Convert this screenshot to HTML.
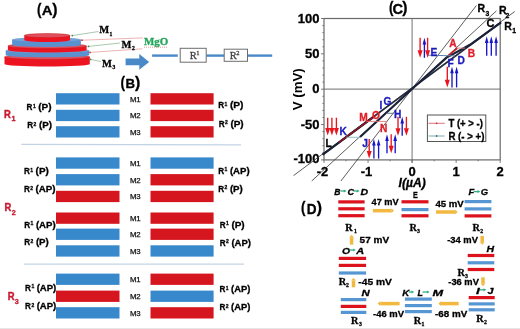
<!DOCTYPE html>
<html><head><meta charset="utf-8"><style>
html,body{margin:0;padding:0;background:#fff;}
svg{display:block;filter:blur(0.3px);}
</style></head><body>
<svg width="520" height="329" viewBox="0 0 520 329">
<rect width="520" height="329" fill="#fff"/>
<text x="36.9" y="14.693617021276594" font-family='"Liberation Sans", sans-serif' font-size="15.744680851063832" font-weight="bold" fill="#000" text-anchor="start" font-style="normal" textLength="4.46" lengthAdjust="spacingAndGlyphs" stroke="#000" stroke-width="0.3" >(</text>
<text x="57.4" y="14.693617021276594" font-family='"Liberation Sans", sans-serif' font-size="15.744680851063832" font-weight="bold" fill="#000" text-anchor="end" font-style="normal" stroke="#000" stroke-width="0.3" >)</text>
<text x="41.8" y="15.0" font-family='"Liberation Sans", sans-serif' font-size="13.687150837988828" font-weight="bold" fill="#000" text-anchor="start" font-style="normal" textLength="10.8" lengthAdjust="spacingAndGlyphs" stroke="#000" stroke-width="0.3" >A</text>
<path d="M4.5,56.9 L4.5,64.0 A42.65,2.5 0 0 0 89.8,64.0 L89.8,56.9 Z" fill="#ec1420"/>
<ellipse cx="47.15" cy="56.9" rx="42.65" ry="2.5" fill="#e0505c" stroke="#c8141e" stroke-width="0.5"/>
<path d="M5.7,50.5 L5.7,55.0 A41.75,2.3 0 0 0 89.2,55.0 L89.2,50.5 Z" fill="#5a92d0"/>
<ellipse cx="47.45" cy="50.5" rx="41.75" ry="2.3" fill="#79a3d6" />
<path d="M7.9,46.0 L7.9,50.0 A39.349999999999994,2.5 0 0 0 86.6,50.0 L86.6,46.0 Z" fill="#ec1420"/>
<ellipse cx="47.25" cy="46.0" rx="39.349999999999994" ry="2.5" fill="#e0505c" stroke="#c8141e" stroke-width="0.5"/>
<path d="M12.1,39.5 L12.1,44.8 A34.400000000000006,2.2 0 0 0 80.9,44.8 L80.9,39.5 Z" fill="#5a92d0"/>
<ellipse cx="46.5" cy="39.5" rx="34.400000000000006" ry="2.2" fill="#79a3d6" />
<path d="M24.3,35.6 L24.3,39.9 A22.85,2.1 0 0 0 70.0,39.9 L70.0,35.6 Z" fill="#ec1420"/>
<ellipse cx="47.15" cy="35.6" rx="22.85" ry="2.1" fill="#e0505c" stroke="#c8141e" stroke-width="0.5"/>
<line x1="72.3" y1="35.6" x2="98.5" y2="31.5" stroke="#9cc4a4" stroke-width="0.9"/>
<circle cx="72.3" cy="35.6" r="0.9" fill="#3a8a4a"/>
<line x1="82" y1="40.2" x2="143" y2="37.9" stroke="#eeaaaa" stroke-width="0.9"/>
<circle cx="82" cy="40.2" r="0.9" fill="#c04040"/>
<line x1="88.5" y1="46.4" x2="120" y2="43" stroke="#9cc4a4" stroke-width="0.9"/>
<circle cx="88.5" cy="46.4" r="0.9" fill="#3a8a4a"/>
<line x1="90" y1="52.4" x2="142.3" y2="48.8" stroke="#eeaaaa" stroke-width="0.9"/>
<circle cx="90" cy="52.4" r="0.9" fill="#c04040"/>
<line x1="90.5" y1="59.4" x2="100.8" y2="61.5" stroke="#9cc4a4" stroke-width="0.9"/>
<circle cx="90.5" cy="59.4" r="0.9" fill="#3a8a4a"/>
<text x="99.2" y="33.3" font-family='"Liberation Serif", serif' font-size="10.6" font-weight="bold" fill="#000" text-anchor="start" font-style="normal" textLength="9.9" lengthAdjust="spacingAndGlyphs" stroke="#000" stroke-width="0.3" >M</text>
<text x="109.6" y="35.6" font-family='"Liberation Serif", serif' font-size="6.2" font-weight="bold" fill="#000" text-anchor="start" font-style="normal" textLength="2.8" lengthAdjust="spacingAndGlyphs" stroke="#000" stroke-width="0.3" >1</text>
<text x="121.6" y="47.7" font-family='"Liberation Serif", serif' font-size="10.6" font-weight="bold" fill="#000" text-anchor="start" font-style="normal" textLength="9.9" lengthAdjust="spacingAndGlyphs" stroke="#000" stroke-width="0.3" >M</text>
<text x="132.0" y="49.6" font-family='"Liberation Serif", serif' font-size="6.2" font-weight="bold" fill="#000" text-anchor="start" font-style="normal" textLength="2.8" lengthAdjust="spacingAndGlyphs" stroke="#000" stroke-width="0.3" >2</text>
<text x="102.1" y="67.3" font-family='"Liberation Serif", serif' font-size="10.6" font-weight="bold" fill="#000" text-anchor="start" font-style="normal" textLength="9.9" lengthAdjust="spacingAndGlyphs" stroke="#000" stroke-width="0.3" >M</text>
<text x="112.4" y="69.4" font-family='"Liberation Serif", serif' font-size="6.2" font-weight="bold" fill="#000" text-anchor="start" font-style="normal" textLength="2.8" lengthAdjust="spacingAndGlyphs" stroke="#000" stroke-width="0.3" >3</text>
<text x="143.9" y="45.2" font-family='"Liberation Serif", serif' font-size="10.8" font-weight="bold" fill="#22a55a" text-anchor="start" font-style="normal" textLength="24.3" lengthAdjust="spacingAndGlyphs" stroke="#22a55a" stroke-width="0.3" >MgO</text>
<line x1="144" y1="47.2" x2="168" y2="47.2" stroke="#e07070" stroke-width="0.7" stroke-dasharray="1,1"/>
<path d="M125.6,58.4 L139.3,58.4 L139.3,53.9 L149.2,61.9 L139.3,69.8 L139.3,65.3 L125.6,65.3 Z" fill="#4a89c8"/>
<line x1="152.1" y1="55.6" x2="177.8" y2="55.6" stroke="#4a89c8" stroke-width="2.4"/>
<line x1="206.2" y1="55.6" x2="224.2" y2="55.6" stroke="#4a89c8" stroke-width="2.4"/>
<line x1="247.5" y1="55.6" x2="272.2" y2="55.6" stroke="#4a89c8" stroke-width="2.4"/>
<rect x="180.2" y="48.3" width="26" height="13.9" fill="#fff" stroke="#6d6d6d" stroke-width="1"/>
<rect x="224.2" y="49.2" width="23.3" height="12.1" fill="#fff" stroke="#6d6d6d" stroke-width="1"/>
<text x="189.8" y="58.5" font-family='"Liberation Serif", serif' font-size="10.5" font-weight="normal" fill="#444" text-anchor="start" font-style="normal" stroke="#444" stroke-width="0.3">R</text>
<text x="196.2" y="54.6" font-family='"Liberation Serif", serif' font-size="6.5" font-weight="normal" fill="#444" text-anchor="start" font-style="normal" stroke="#444" stroke-width="0.3">1</text>
<text x="229.8" y="58.5" font-family='"Liberation Serif", serif' font-size="10.5" font-weight="normal" fill="#444" text-anchor="start" font-style="normal" stroke="#444" stroke-width="0.3">R</text>
<text x="236.3" y="55.2" font-family='"Liberation Serif", serif' font-size="6.5" font-weight="normal" fill="#444" text-anchor="start" font-style="normal" stroke="#444" stroke-width="0.3">2</text>
<text x="120.5" y="88.07127659574469" font-family='"Liberation Sans", sans-serif' font-size="15.851063829787241" font-weight="bold" fill="#000" text-anchor="start" font-style="normal" textLength="4.49" lengthAdjust="spacingAndGlyphs" stroke="#000" stroke-width="0.3" >(</text>
<text x="140.2" y="88.07127659574469" font-family='"Liberation Sans", sans-serif' font-size="15.851063829787241" font-weight="bold" fill="#000" text-anchor="end" font-style="normal" stroke="#000" stroke-width="0.3" >)</text>
<text x="125.4" y="88.0" font-family='"Liberation Sans", sans-serif' font-size="12.709497206703903" font-weight="bold" fill="#000" text-anchor="start" font-style="normal" textLength="9.6" lengthAdjust="spacingAndGlyphs" stroke="#000" stroke-width="0.3" >B</text>
<rect x="56" y="93.2" width="63.5" height="11.3" fill="#3888cc"/>
<rect x="150.5" y="93.2" width="63.1" height="11.3" fill="#d6161e"/>
<text x="135.3" y="101.85000000000001" font-family='"Liberation Sans", sans-serif' font-size="7.8" font-weight="normal" fill="#111" text-anchor="middle" font-style="normal" stroke="#111" stroke-width="0.25">M1</text>
<rect x="56" y="109.8" width="63.5" height="11.3" fill="#3888cc"/>
<rect x="150.5" y="109.8" width="63.1" height="11.3" fill="#d6161e"/>
<text x="135.3" y="118.45" font-family='"Liberation Sans", sans-serif' font-size="7.8" font-weight="normal" fill="#111" text-anchor="middle" font-style="normal" stroke="#111" stroke-width="0.25">M2</text>
<rect x="56" y="126.2" width="63.5" height="11.3" fill="#3888cc"/>
<rect x="150.5" y="126.2" width="63.1" height="11.3" fill="#d6161e"/>
<text x="135.3" y="134.85" font-family='"Liberation Sans", sans-serif' font-size="7.8" font-weight="normal" fill="#111" text-anchor="middle" font-style="normal" stroke="#111" stroke-width="0.25">M3</text>
<rect x="56" y="157.4" width="63.5" height="11.3" fill="#3888cc"/>
<rect x="150.5" y="157.4" width="63.1" height="11.3" fill="#3888cc"/>
<text x="135.3" y="166.05" font-family='"Liberation Sans", sans-serif' font-size="7.8" font-weight="normal" fill="#111" text-anchor="middle" font-style="normal" stroke="#111" stroke-width="0.25">M1</text>
<rect x="56" y="174.1" width="63.5" height="11.3" fill="#3888cc"/>
<rect x="150.5" y="174.1" width="63.1" height="11.3" fill="#d6161e"/>
<text x="135.3" y="182.75" font-family='"Liberation Sans", sans-serif' font-size="7.8" font-weight="normal" fill="#111" text-anchor="middle" font-style="normal" stroke="#111" stroke-width="0.25">M2</text>
<rect x="56" y="190.8" width="63.5" height="11.3" fill="#d6161e"/>
<rect x="150.5" y="190.8" width="63.1" height="11.3" fill="#d6161e"/>
<text x="135.3" y="199.45000000000002" font-family='"Liberation Sans", sans-serif' font-size="7.8" font-weight="normal" fill="#111" text-anchor="middle" font-style="normal" stroke="#111" stroke-width="0.25">M3</text>
<rect x="56" y="212.5" width="63.5" height="11.3" fill="#d6161e"/>
<rect x="150.5" y="212.5" width="63.1" height="11.3" fill="#d6161e"/>
<text x="135.3" y="221.15" font-family='"Liberation Sans", sans-serif' font-size="7.8" font-weight="normal" fill="#111" text-anchor="middle" font-style="normal" stroke="#111" stroke-width="0.25">M1</text>
<rect x="56" y="228.6" width="63.5" height="11.3" fill="#3888cc"/>
<rect x="150.5" y="228.6" width="63.1" height="11.3" fill="#d6161e"/>
<text x="135.3" y="237.25" font-family='"Liberation Sans", sans-serif' font-size="7.8" font-weight="normal" fill="#111" text-anchor="middle" font-style="normal" stroke="#111" stroke-width="0.25">M2</text>
<rect x="56" y="245.3" width="63.5" height="11.3" fill="#3888cc"/>
<rect x="150.5" y="245.3" width="63.1" height="11.3" fill="#3888cc"/>
<text x="135.3" y="253.95000000000002" font-family='"Liberation Sans", sans-serif' font-size="7.8" font-weight="normal" fill="#111" text-anchor="middle" font-style="normal" stroke="#111" stroke-width="0.25">M3</text>
<rect x="56" y="273.6" width="63.5" height="11.3" fill="#3888cc"/>
<rect x="150.5" y="273.6" width="63.1" height="11.3" fill="#d6161e"/>
<text x="135.3" y="282.25" font-family='"Liberation Sans", sans-serif' font-size="7.8" font-weight="normal" fill="#111" text-anchor="middle" font-style="normal" stroke="#111" stroke-width="0.25">M1</text>
<rect x="56" y="290.6" width="63.5" height="11.3" fill="#d6161e"/>
<rect x="150.5" y="290.6" width="63.1" height="11.3" fill="#3888cc"/>
<text x="135.3" y="299.25" font-family='"Liberation Sans", sans-serif' font-size="7.8" font-weight="normal" fill="#111" text-anchor="middle" font-style="normal" stroke="#111" stroke-width="0.25">M2</text>
<rect x="56" y="307.2" width="63.5" height="11.3" fill="#3888cc"/>
<rect x="150.5" y="307.2" width="63.1" height="11.3" fill="#d6161e"/>
<text x="135.3" y="315.84999999999997" font-family='"Liberation Sans", sans-serif' font-size="7.8" font-weight="normal" fill="#111" text-anchor="middle" font-style="normal" stroke="#111" stroke-width="0.25">M3</text>
<line x1="21.3" y1="144.4" x2="241" y2="144.8" stroke="#c3d3e3" stroke-width="1.2"/>
<line x1="24" y1="264.2" x2="244" y2="264.2" stroke="#c3d3e3" stroke-width="1.2"/>
<text x="3.9" y="118.4" font-family='"Liberation Sans", sans-serif' font-size="11" font-weight="bold" fill="#c81a32" text-anchor="start" font-style="normal" textLength="6.8" lengthAdjust="spacingAndGlyphs" stroke="#c81a32" stroke-width="0.45">R</text>
<text x="11.5" y="121.4" font-family='"Liberation Sans", sans-serif' font-size="7.6" font-weight="bold" fill="#c81a32" text-anchor="start" font-style="normal" textLength="4.0" lengthAdjust="spacingAndGlyphs" stroke="#c81a32" stroke-width="0.35">1</text>
<text x="4.6" y="211.4" font-family='"Liberation Sans", sans-serif' font-size="11" font-weight="bold" fill="#c81a32" text-anchor="start" font-style="normal" textLength="6.8" lengthAdjust="spacingAndGlyphs" stroke="#c81a32" stroke-width="0.45">R</text>
<text x="11.8" y="214.7" font-family='"Liberation Sans", sans-serif' font-size="7.6" font-weight="bold" fill="#c81a32" text-anchor="start" font-style="normal" textLength="4.0" lengthAdjust="spacingAndGlyphs" stroke="#c81a32" stroke-width="0.35">2</text>
<text x="7.8" y="300.4" font-family='"Liberation Sans", sans-serif' font-size="11" font-weight="bold" fill="#c81a32" text-anchor="start" font-style="normal" textLength="6.8" lengthAdjust="spacingAndGlyphs" stroke="#c81a32" stroke-width="0.45">R</text>
<text x="14.8" y="303.7" font-family='"Liberation Sans", sans-serif' font-size="7.6" font-weight="bold" fill="#c81a32" text-anchor="start" font-style="normal" textLength="4.0" lengthAdjust="spacingAndGlyphs" stroke="#c81a32" stroke-width="0.35">3</text>
<text x="26.6" y="110.2" font-family='"Liberation Sans", sans-serif' font-size="9" font-weight="bold" fill="#000" text-anchor="start" font-style="normal" textLength="5.9" lengthAdjust="spacingAndGlyphs" stroke="#000" stroke-width="0.3" >R</text>
<text x="32.9" y="107.7" font-family='"Liberation Sans", sans-serif' font-size="5.8" font-weight="bold" fill="#000" text-anchor="start" font-style="normal" textLength="2.8" lengthAdjust="spacingAndGlyphs" stroke="#000" stroke-width="0.3" >1</text>
<text x="38.2" y="110.2" font-family='"Liberation Sans", sans-serif' font-size="9" font-weight="bold" fill="#000" text-anchor="start" font-style="normal" textLength="13.299999999999995" lengthAdjust="spacingAndGlyphs" stroke="#000" stroke-width="0.3" >(P)</text>
<text x="27.3" y="128.2" font-family='"Liberation Sans", sans-serif' font-size="9" font-weight="bold" fill="#000" text-anchor="start" font-style="normal" textLength="5.9" lengthAdjust="spacingAndGlyphs" stroke="#000" stroke-width="0.3" >R</text>
<text x="33.6" y="125.69999999999999" font-family='"Liberation Sans", sans-serif' font-size="5.8" font-weight="bold" fill="#000" text-anchor="start" font-style="normal" textLength="2.8" lengthAdjust="spacingAndGlyphs" stroke="#000" stroke-width="0.3" >2</text>
<text x="38.9" y="128.2" font-family='"Liberation Sans", sans-serif' font-size="9" font-weight="bold" fill="#000" text-anchor="start" font-style="normal" textLength="12.999999999999998" lengthAdjust="spacingAndGlyphs" stroke="#000" stroke-width="0.3" >(P)</text>
<text x="218.3" y="108.2" font-family='"Liberation Sans", sans-serif' font-size="9" font-weight="bold" fill="#000" text-anchor="start" font-style="normal" textLength="5.9" lengthAdjust="spacingAndGlyphs" stroke="#000" stroke-width="0.3" >R</text>
<text x="224.60000000000002" y="105.7" font-family='"Liberation Sans", sans-serif' font-size="5.8" font-weight="bold" fill="#000" text-anchor="start" font-style="normal" textLength="2.8" lengthAdjust="spacingAndGlyphs" stroke="#000" stroke-width="0.3" >1</text>
<text x="229.9" y="108.2" font-family='"Liberation Sans", sans-serif' font-size="9" font-weight="bold" fill="#000" text-anchor="start" font-style="normal" textLength="13.6" lengthAdjust="spacingAndGlyphs" stroke="#000" stroke-width="0.3" >(P)</text>
<text x="218.8" y="126.7" font-family='"Liberation Sans", sans-serif' font-size="9" font-weight="bold" fill="#000" text-anchor="start" font-style="normal" textLength="5.9" lengthAdjust="spacingAndGlyphs" stroke="#000" stroke-width="0.3" >R</text>
<text x="225.10000000000002" y="124.2" font-family='"Liberation Sans", sans-serif' font-size="5.8" font-weight="bold" fill="#000" text-anchor="start" font-style="normal" textLength="2.8" lengthAdjust="spacingAndGlyphs" stroke="#000" stroke-width="0.3" >2</text>
<text x="230.4" y="126.7" font-family='"Liberation Sans", sans-serif' font-size="9" font-weight="bold" fill="#000" text-anchor="start" font-style="normal" textLength="13.299999999999988" lengthAdjust="spacingAndGlyphs" stroke="#000" stroke-width="0.3" >(P)</text>
<text x="24.0" y="174.2" font-family='"Liberation Sans", sans-serif' font-size="9" font-weight="bold" fill="#000" text-anchor="start" font-style="normal" textLength="5.9" lengthAdjust="spacingAndGlyphs" stroke="#000" stroke-width="0.3" >R</text>
<text x="30.3" y="171.7" font-family='"Liberation Sans", sans-serif' font-size="5.8" font-weight="bold" fill="#000" text-anchor="start" font-style="normal" textLength="2.8" lengthAdjust="spacingAndGlyphs" stroke="#000" stroke-width="0.3" >1</text>
<text x="35.6" y="174.2" font-family='"Liberation Sans", sans-serif' font-size="9" font-weight="bold" fill="#000" text-anchor="start" font-style="normal" textLength="13.200000000000001" lengthAdjust="spacingAndGlyphs" stroke="#000" stroke-width="0.3" >(P)</text>
<text x="24.0" y="192.2" font-family='"Liberation Sans", sans-serif' font-size="9" font-weight="bold" fill="#000" text-anchor="start" font-style="normal" textLength="5.9" lengthAdjust="spacingAndGlyphs" stroke="#000" stroke-width="0.3" >R</text>
<text x="30.3" y="189.7" font-family='"Liberation Sans", sans-serif' font-size="5.8" font-weight="bold" fill="#000" text-anchor="start" font-style="normal" textLength="2.8" lengthAdjust="spacingAndGlyphs" stroke="#000" stroke-width="0.3" >2</text>
<text x="35.6" y="192.2" font-family='"Liberation Sans", sans-serif' font-size="9" font-weight="bold" fill="#000" text-anchor="start" font-style="normal" textLength="20.0" lengthAdjust="spacingAndGlyphs" stroke="#000" stroke-width="0.3" >(AP)</text>
<text x="24.3" y="227.7" font-family='"Liberation Sans", sans-serif' font-size="9" font-weight="bold" fill="#000" text-anchor="start" font-style="normal" textLength="5.9" lengthAdjust="spacingAndGlyphs" stroke="#000" stroke-width="0.3" >R</text>
<text x="30.6" y="225.2" font-family='"Liberation Sans", sans-serif' font-size="5.8" font-weight="bold" fill="#000" text-anchor="start" font-style="normal" textLength="2.8" lengthAdjust="spacingAndGlyphs" stroke="#000" stroke-width="0.3" >1</text>
<text x="35.9" y="227.7" font-family='"Liberation Sans", sans-serif' font-size="9" font-weight="bold" fill="#000" text-anchor="start" font-style="normal" textLength="19.700000000000003" lengthAdjust="spacingAndGlyphs" stroke="#000" stroke-width="0.3" >(AP)</text>
<text x="24.3" y="245.2" font-family='"Liberation Sans", sans-serif' font-size="9" font-weight="bold" fill="#000" text-anchor="start" font-style="normal" textLength="5.9" lengthAdjust="spacingAndGlyphs" stroke="#000" stroke-width="0.3" >R</text>
<text x="30.6" y="242.7" font-family='"Liberation Sans", sans-serif' font-size="5.8" font-weight="bold" fill="#000" text-anchor="start" font-style="normal" textLength="2.8" lengthAdjust="spacingAndGlyphs" stroke="#000" stroke-width="0.3" >2</text>
<text x="35.9" y="245.2" font-family='"Liberation Sans", sans-serif' font-size="9" font-weight="bold" fill="#000" text-anchor="start" font-style="normal" textLength="12.900000000000004" lengthAdjust="spacingAndGlyphs" stroke="#000" stroke-width="0.3" >(P)</text>
<text x="218.3" y="173.7" font-family='"Liberation Sans", sans-serif' font-size="9" font-weight="bold" fill="#000" text-anchor="start" font-style="normal" textLength="5.9" lengthAdjust="spacingAndGlyphs" stroke="#000" stroke-width="0.3" >R</text>
<text x="224.60000000000002" y="171.2" font-family='"Liberation Sans", sans-serif' font-size="5.8" font-weight="bold" fill="#000" text-anchor="start" font-style="normal" textLength="2.8" lengthAdjust="spacingAndGlyphs" stroke="#000" stroke-width="0.3" >1</text>
<text x="229.9" y="173.7" font-family='"Liberation Sans", sans-serif' font-size="9" font-weight="bold" fill="#000" text-anchor="start" font-style="normal" textLength="19.699999999999996" lengthAdjust="spacingAndGlyphs" stroke="#000" stroke-width="0.3" >(AP)</text>
<text x="218.3" y="191.7" font-family='"Liberation Sans", sans-serif' font-size="9" font-weight="bold" fill="#000" text-anchor="start" font-style="normal" textLength="5.9" lengthAdjust="spacingAndGlyphs" stroke="#000" stroke-width="0.3" >R</text>
<text x="224.60000000000002" y="189.2" font-family='"Liberation Sans", sans-serif' font-size="5.8" font-weight="bold" fill="#000" text-anchor="start" font-style="normal" textLength="2.8" lengthAdjust="spacingAndGlyphs" stroke="#000" stroke-width="0.3" >2</text>
<text x="229.9" y="191.7" font-family='"Liberation Sans", sans-serif' font-size="9" font-weight="bold" fill="#000" text-anchor="start" font-style="normal" textLength="12.899999999999983" lengthAdjust="spacingAndGlyphs" stroke="#000" stroke-width="0.3" >(P)</text>
<text x="219.8" y="227.5" font-family='"Liberation Sans", sans-serif' font-size="9" font-weight="bold" fill="#000" text-anchor="start" font-style="normal" textLength="5.9" lengthAdjust="spacingAndGlyphs" stroke="#000" stroke-width="0.3" >R</text>
<text x="226.10000000000002" y="225.0" font-family='"Liberation Sans", sans-serif' font-size="5.8" font-weight="bold" fill="#000" text-anchor="start" font-style="normal" textLength="2.8" lengthAdjust="spacingAndGlyphs" stroke="#000" stroke-width="0.3" >1</text>
<text x="231.4" y="227.5" font-family='"Liberation Sans", sans-serif' font-size="9" font-weight="bold" fill="#000" text-anchor="start" font-style="normal" textLength="13.299999999999988" lengthAdjust="spacingAndGlyphs" stroke="#000" stroke-width="0.3" >(P)</text>
<text x="219.8" y="245.7" font-family='"Liberation Sans", sans-serif' font-size="9" font-weight="bold" fill="#000" text-anchor="start" font-style="normal" textLength="5.9" lengthAdjust="spacingAndGlyphs" stroke="#000" stroke-width="0.3" >R</text>
<text x="226.10000000000002" y="243.2" font-family='"Liberation Sans", sans-serif' font-size="5.8" font-weight="bold" fill="#000" text-anchor="start" font-style="normal" textLength="2.8" lengthAdjust="spacingAndGlyphs" stroke="#000" stroke-width="0.3" >2</text>
<text x="231.4" y="245.7" font-family='"Liberation Sans", sans-serif' font-size="9" font-weight="bold" fill="#000" text-anchor="start" font-style="normal" textLength="19.6" lengthAdjust="spacingAndGlyphs" stroke="#000" stroke-width="0.3" >(AP)</text>
<text x="25.1" y="290.9" font-family='"Liberation Sans", sans-serif' font-size="9" font-weight="bold" fill="#000" text-anchor="start" font-style="normal" textLength="5.9" lengthAdjust="spacingAndGlyphs" stroke="#000" stroke-width="0.3" >R</text>
<text x="31.400000000000002" y="288.4" font-family='"Liberation Sans", sans-serif' font-size="5.8" font-weight="bold" fill="#000" text-anchor="start" font-style="normal" textLength="2.8" lengthAdjust="spacingAndGlyphs" stroke="#000" stroke-width="0.3" >1</text>
<text x="36.7" y="290.9" font-family='"Liberation Sans", sans-serif' font-size="9" font-weight="bold" fill="#000" text-anchor="start" font-style="normal" textLength="19.6" lengthAdjust="spacingAndGlyphs" stroke="#000" stroke-width="0.3" >(AP)</text>
<text x="25.1" y="309.1" font-family='"Liberation Sans", sans-serif' font-size="9" font-weight="bold" fill="#000" text-anchor="start" font-style="normal" textLength="5.9" lengthAdjust="spacingAndGlyphs" stroke="#000" stroke-width="0.3" >R</text>
<text x="31.400000000000002" y="306.6" font-family='"Liberation Sans", sans-serif' font-size="5.8" font-weight="bold" fill="#000" text-anchor="start" font-style="normal" textLength="2.8" lengthAdjust="spacingAndGlyphs" stroke="#000" stroke-width="0.3" >2</text>
<text x="36.7" y="309.1" font-family='"Liberation Sans", sans-serif' font-size="9" font-weight="bold" fill="#000" text-anchor="start" font-style="normal" textLength="19.6" lengthAdjust="spacingAndGlyphs" stroke="#000" stroke-width="0.3" >(AP)</text>
<text x="219.4" y="292.2" font-family='"Liberation Sans", sans-serif' font-size="9" font-weight="bold" fill="#000" text-anchor="start" font-style="normal" textLength="5.9" lengthAdjust="spacingAndGlyphs" stroke="#000" stroke-width="0.3" >R</text>
<text x="225.70000000000002" y="289.7" font-family='"Liberation Sans", sans-serif' font-size="5.8" font-weight="bold" fill="#000" text-anchor="start" font-style="normal" textLength="2.8" lengthAdjust="spacingAndGlyphs" stroke="#000" stroke-width="0.3" >1</text>
<text x="231.0" y="292.2" font-family='"Liberation Sans", sans-serif' font-size="9" font-weight="bold" fill="#000" text-anchor="start" font-style="normal" textLength="19.29999999999999" lengthAdjust="spacingAndGlyphs" stroke="#000" stroke-width="0.3" >(AP)</text>
<text x="219.4" y="310.1" font-family='"Liberation Sans", sans-serif' font-size="9" font-weight="bold" fill="#000" text-anchor="start" font-style="normal" textLength="5.9" lengthAdjust="spacingAndGlyphs" stroke="#000" stroke-width="0.3" >R</text>
<text x="225.70000000000002" y="307.6" font-family='"Liberation Sans", sans-serif' font-size="5.8" font-weight="bold" fill="#000" text-anchor="start" font-style="normal" textLength="2.8" lengthAdjust="spacingAndGlyphs" stroke="#000" stroke-width="0.3" >2</text>
<text x="231.0" y="310.1" font-family='"Liberation Sans", sans-serif' font-size="9" font-weight="bold" fill="#000" text-anchor="start" font-style="normal" textLength="19.29999999999999" lengthAdjust="spacingAndGlyphs" stroke="#000" stroke-width="0.3" >(AP)</text>
<text x="389.0" y="12.71595744680851" font-family='"Liberation Sans", sans-serif' font-size="15.638297872340425" font-weight="bold" fill="#000" text-anchor="start" font-style="normal" textLength="4.43" lengthAdjust="spacingAndGlyphs" stroke="#000" stroke-width="0.3" >(</text>
<text x="407.4" y="12.71595744680851" font-family='"Liberation Sans", sans-serif' font-size="15.638297872340425" font-weight="bold" fill="#000" text-anchor="end" font-style="normal" stroke="#000" stroke-width="0.3" >)</text>
<text x="392.6" y="13.6" font-family='"Liberation Sans", sans-serif' font-size="13.826815642458099" font-weight="bold" fill="#000" text-anchor="start" font-style="normal" textLength="10.6" lengthAdjust="spacingAndGlyphs" stroke="#000" stroke-width="0.3" >C</text>
<line x1="412.1" y1="18.5" x2="412.1" y2="162.70000000000002" stroke="#8a8a8a" stroke-width="1.2"/>
<line x1="324.0" y1="89.2" x2="500.2" y2="89.2" stroke="#8a8a8a" stroke-width="1.2"/>
<line x1="321.0" y1="159.90" x2="324.0" y2="159.90" stroke="#6a6a6a" stroke-width="0.9"/>
<line x1="322.4" y1="152.83" x2="324.0" y2="152.83" stroke="#6a6a6a" stroke-width="0.9"/>
<line x1="322.4" y1="145.76" x2="324.0" y2="145.76" stroke="#6a6a6a" stroke-width="0.9"/>
<line x1="322.4" y1="138.69" x2="324.0" y2="138.69" stroke="#6a6a6a" stroke-width="0.9"/>
<line x1="322.4" y1="131.62" x2="324.0" y2="131.62" stroke="#6a6a6a" stroke-width="0.9"/>
<line x1="321.0" y1="124.55" x2="324.0" y2="124.55" stroke="#6a6a6a" stroke-width="0.9"/>
<line x1="322.4" y1="117.48" x2="324.0" y2="117.48" stroke="#6a6a6a" stroke-width="0.9"/>
<line x1="322.4" y1="110.41" x2="324.0" y2="110.41" stroke="#6a6a6a" stroke-width="0.9"/>
<line x1="322.4" y1="103.34" x2="324.0" y2="103.34" stroke="#6a6a6a" stroke-width="0.9"/>
<line x1="322.4" y1="96.27" x2="324.0" y2="96.27" stroke="#6a6a6a" stroke-width="0.9"/>
<line x1="321.0" y1="89.20" x2="324.0" y2="89.20" stroke="#6a6a6a" stroke-width="0.9"/>
<line x1="322.4" y1="82.13" x2="324.0" y2="82.13" stroke="#6a6a6a" stroke-width="0.9"/>
<line x1="322.4" y1="75.06" x2="324.0" y2="75.06" stroke="#6a6a6a" stroke-width="0.9"/>
<line x1="322.4" y1="67.99" x2="324.0" y2="67.99" stroke="#6a6a6a" stroke-width="0.9"/>
<line x1="322.4" y1="60.92" x2="324.0" y2="60.92" stroke="#6a6a6a" stroke-width="0.9"/>
<line x1="321.0" y1="53.85" x2="324.0" y2="53.85" stroke="#6a6a6a" stroke-width="0.9"/>
<line x1="322.4" y1="46.78" x2="324.0" y2="46.78" stroke="#6a6a6a" stroke-width="0.9"/>
<line x1="322.4" y1="39.71" x2="324.0" y2="39.71" stroke="#6a6a6a" stroke-width="0.9"/>
<line x1="322.4" y1="32.64" x2="324.0" y2="32.64" stroke="#6a6a6a" stroke-width="0.9"/>
<line x1="322.4" y1="25.57" x2="324.0" y2="25.57" stroke="#6a6a6a" stroke-width="0.9"/>
<line x1="321.0" y1="18.50" x2="324.0" y2="18.50" stroke="#6a6a6a" stroke-width="0.9"/>
<line x1="324.00" y1="159.9" x2="324.00" y2="162.9" stroke="#6a6a6a" stroke-width="0.9"/>
<line x1="346.02" y1="159.9" x2="346.02" y2="161.3" stroke="#6a6a6a" stroke-width="0.9"/>
<line x1="368.05" y1="159.9" x2="368.05" y2="162.9" stroke="#6a6a6a" stroke-width="0.9"/>
<line x1="390.07" y1="159.9" x2="390.07" y2="161.3" stroke="#6a6a6a" stroke-width="0.9"/>
<line x1="412.10" y1="159.9" x2="412.10" y2="162.9" stroke="#6a6a6a" stroke-width="0.9"/>
<line x1="434.12" y1="159.9" x2="434.12" y2="161.3" stroke="#6a6a6a" stroke-width="0.9"/>
<line x1="456.15" y1="159.9" x2="456.15" y2="162.9" stroke="#6a6a6a" stroke-width="0.9"/>
<line x1="478.17" y1="159.9" x2="478.17" y2="161.3" stroke="#6a6a6a" stroke-width="0.9"/>
<line x1="500.20" y1="159.9" x2="500.20" y2="162.9" stroke="#6a6a6a" stroke-width="0.9"/>
<rect x="324.0" y="18.5" width="176.2" height="141.4" fill="none" stroke="#6a6a6a" stroke-width="1.2"/>
<text x="319.5" y="22.5" font-family='"Liberation Sans", sans-serif' font-size="13" font-weight="bold" fill="#000" text-anchor="end" font-style="normal" stroke="#000" stroke-width="0.3" >100</text>
<text x="319.5" y="57.9" font-family='"Liberation Sans", sans-serif' font-size="13" font-weight="bold" fill="#000" text-anchor="end" font-style="normal" stroke="#000" stroke-width="0.3" >50</text>
<text x="319.5" y="93.44999999999999" font-family='"Liberation Sans", sans-serif' font-size="13" font-weight="bold" fill="#000" text-anchor="end" font-style="normal" stroke="#000" stroke-width="0.3" >0</text>
<text x="319.5" y="129.1" font-family='"Liberation Sans", sans-serif' font-size="13" font-weight="bold" fill="#000" text-anchor="end" font-style="normal" stroke="#000" stroke-width="0.3" >-50</text>
<text x="319.5" y="163.29999999999998" font-family='"Liberation Sans", sans-serif' font-size="13" font-weight="bold" fill="#000" text-anchor="end" font-style="normal" stroke="#000" stroke-width="0.3" >-100</text>
<text x="322.5" y="175.8" font-family='"Liberation Sans", sans-serif' font-size="13" font-weight="bold" fill="#000" text-anchor="middle" font-style="normal" stroke="#000" stroke-width="0.3" >-2</text>
<text x="366.55" y="175.8" font-family='"Liberation Sans", sans-serif' font-size="13" font-weight="bold" fill="#000" text-anchor="middle" font-style="normal" stroke="#000" stroke-width="0.3" >-1</text>
<text x="412.1" y="175.8" font-family='"Liberation Sans", sans-serif' font-size="13" font-weight="bold" fill="#000" text-anchor="middle" font-style="normal" stroke="#000" stroke-width="0.3" >0</text>
<text x="456.15" y="175.8" font-family='"Liberation Sans", sans-serif' font-size="13" font-weight="bold" fill="#000" text-anchor="middle" font-style="normal" stroke="#000" stroke-width="0.3" >1</text>
<text x="500.2" y="175.8" font-family='"Liberation Sans", sans-serif' font-size="13" font-weight="bold" fill="#000" text-anchor="middle" font-style="normal" stroke="#000" stroke-width="0.3" >2</text>
<text x="398.6" y="186.6" font-family='"Liberation Sans", sans-serif' font-size="12.0" font-weight="bold" fill="#000" text-anchor="start" font-style="italic" textLength="27.2" lengthAdjust="spacingAndGlyphs" stroke="#000" stroke-width="0.3" >I(µA)</text>
<text transform="translate(302.2,89.2) rotate(-90)" font-family='"Liberation Sans", sans-serif' font-size="12" font-weight="bold" text-anchor="middle" textLength="42" lengthAdjust="spacingAndGlyphs">V (mV)</text>
<line x1="340.9" y1="181" x2="476.4" y2="5.5" stroke="#333" stroke-width="0.8"/>
<line x1="311.7" y1="181" x2="496.4" y2="10.9" stroke="#333" stroke-width="0.8"/>
<line x1="293.5" y1="175.6" x2="514.7" y2="11.5" stroke="#333" stroke-width="0.8"/>
<text x="477.6" y="12.1" font-family='"Liberation Sans", sans-serif' font-size="10.5" font-weight="bold" fill="#000" text-anchor="start" font-style="normal" stroke="#000" stroke-width="0.3" >R</text>
<text x="485.5" y="16.4" font-family='"Liberation Sans", sans-serif' font-size="6.8" font-weight="bold" fill="#000" text-anchor="start" font-style="normal" stroke="#000" stroke-width="0.3" >3</text>
<text x="498.9" y="14.0" font-family='"Liberation Sans", sans-serif' font-size="10.5" font-weight="bold" fill="#000" text-anchor="start" font-style="normal" stroke="#000" stroke-width="0.3" >R</text>
<text x="505.5" y="17.6" font-family='"Liberation Sans", sans-serif' font-size="6.8" font-weight="bold" fill="#000" text-anchor="start" font-style="normal" stroke="#000" stroke-width="0.3" >2</text>
<text x="504.3" y="29.8" font-family='"Liberation Sans", sans-serif' font-size="10.5" font-weight="bold" fill="#000" text-anchor="start" font-style="normal" stroke="#000" stroke-width="0.3" >R</text>
<text x="512.2" y="33.4" font-family='"Liberation Sans", sans-serif' font-size="6.8" font-weight="bold" fill="#000" text-anchor="start" font-style="normal" stroke="#000" stroke-width="0.3" >1</text>
<line x1="322.6" y1="154.6" x2="501" y2="22.4" stroke="#222a3c" stroke-width="1.5"/>
<line x1="322.6" y1="154.6" x2="373" y2="117.25" stroke="#1b2138" stroke-width="2.3"/>
<polyline points="360.0,137.0 412,89 446.5,57.6 470,44.8 501,22.4" fill="none" stroke="#1b2138" stroke-width="2.2" stroke-linejoin="round"/>
<line x1="339" y1="142.45" x2="376" y2="115.03" stroke="#8e1620" stroke-width="1.5"/>
<line x1="346.5" y1="137.3" x2="360.0" y2="137.3" stroke="#8cc0c8" stroke-width="1"/>
<line x1="366.5" y1="121.4" x2="386.6" y2="121.4" stroke="#e07878" stroke-width="0.9"/>
<line x1="448.6" y1="55.4" x2="457.4" y2="48.1" stroke="#c8202a" stroke-width="1.7"/>
<line x1="457.4" y1="48.1" x2="465" y2="48.1" stroke="#e08080" stroke-width="0.9"/>
<line x1="386" y1="113.3" x2="393.5" y2="113.3" stroke="#5a6a80" stroke-width="0.9"/>
<line x1="428" y1="55.2" x2="455" y2="55.9" stroke="#6080a8" stroke-width="1"/>
<text x="449.2" y="47.3" font-family='"Liberation Sans", sans-serif' font-size="10.2" font-weight="bold" fill="#e0202a" text-anchor="start" font-style="normal" stroke="#e0202a" stroke-width="0.3" >A</text>
<text x="467.7" y="57.4" font-family='"Liberation Sans", sans-serif' font-size="10.2" font-weight="bold" fill="#e0202a" text-anchor="start" font-style="normal" stroke="#e0202a" stroke-width="0.3" >B</text>
<text x="486.5" y="27.3" font-family='"Liberation Sans", sans-serif' font-size="11" font-weight="bold" fill="#000" text-anchor="start" font-style="normal" stroke="#000" stroke-width="0.3" >C</text>
<text x="457.4" y="63.7" font-family='"Liberation Sans", sans-serif' font-size="10.2" font-weight="bold" fill="#1c1cbc" text-anchor="start" font-style="normal" stroke="#1c1cbc" stroke-width="0.3" >D</text>
<text x="430.5" y="56.0" font-family='"Liberation Sans", sans-serif' font-size="10.2" font-weight="bold" fill="#1c1cbc" text-anchor="start" font-style="normal" stroke="#1c1cbc" stroke-width="0.3" >E</text>
<text x="447.6" y="66.5" font-family='"Liberation Sans", sans-serif' font-size="10.2" font-weight="bold" fill="#1c1cbc" text-anchor="start" font-style="normal" stroke="#1c1cbc" stroke-width="0.3" >F</text>
<text x="383.6" y="105.4" font-family='"Liberation Sans", sans-serif' font-size="10.2" font-weight="bold" fill="#1c1cbc" text-anchor="start" font-style="normal" stroke="#1c1cbc" stroke-width="0.3" >G</text>
<text x="394.0" y="118.3" font-family='"Liberation Sans", sans-serif' font-size="10.2" font-weight="bold" fill="#1c1cbc" text-anchor="start" font-style="normal" stroke="#1c1cbc" stroke-width="0.3" >H</text>
<text x="379.6" y="109.1" font-family='"Liberation Sans", sans-serif' font-size="10.2" font-weight="bold" fill="#1c1cbc" text-anchor="start" font-style="normal" stroke="#1c1cbc" stroke-width="0.3" >I</text>
<text x="362.2" y="146.8" font-family='"Liberation Sans", sans-serif' font-size="10.2" font-weight="bold" fill="#1c1cbc" text-anchor="start" font-style="normal" stroke="#1c1cbc" stroke-width="0.3" >J</text>
<text x="339.6" y="134.6" font-family='"Liberation Sans", sans-serif' font-size="10.2" font-weight="bold" fill="#1c1cbc" text-anchor="start" font-style="normal" stroke="#1c1cbc" stroke-width="0.3" >K</text>
<text x="325.5" y="146.5" font-family='"Liberation Sans", sans-serif' font-size="10.2" font-weight="bold" fill="#000" text-anchor="start" font-style="normal" stroke="#000" stroke-width="0.3" >L</text>
<text x="359.2" y="120.9" font-family='"Liberation Sans", sans-serif' font-size="10.2" font-weight="bold" fill="#e0202a" text-anchor="start" font-style="normal" stroke="#e0202a" stroke-width="0.3" >M</text>
<text x="379.9" y="131.7" font-family='"Liberation Sans", sans-serif' font-size="10.2" font-weight="bold" fill="#e0202a" text-anchor="start" font-style="normal" stroke="#e0202a" stroke-width="0.3" >N</text>
<text x="372.0" y="118.8" font-family='"Liberation Sans", sans-serif' font-size="10.2" font-weight="bold" fill="#e0202a" text-anchor="start" font-style="normal" stroke="#e0202a" stroke-width="0.3" >O</text>
<line x1="327.7" y1="117.7" x2="327.7" y2="128.4" stroke="#e8141e" stroke-width="1.35"/>
<path d="M325.2,127.9 L327.7,135.5 L330.2,127.9 Z" fill="#e8141e"/>
<line x1="331.9" y1="117.7" x2="331.9" y2="128.4" stroke="#e8141e" stroke-width="1.35"/>
<path d="M329.4,127.9 L331.9,135.5 L334.4,127.9 Z" fill="#e8141e"/>
<line x1="336.4" y1="117.7" x2="336.4" y2="128.4" stroke="#e8141e" stroke-width="1.35"/>
<path d="M333.9,127.9 L336.4,135.5 L338.9,127.9 Z" fill="#e8141e"/>
<line x1="369.2" y1="139.0" x2="369.2" y2="151.5" stroke="#e8141e" stroke-width="1.35"/>
<path d="M366.7,151.0 L369.2,158.6 L371.7,151.0 Z" fill="#e8141e"/>
<line x1="373.9" y1="145.1" x2="373.9" y2="158.6" stroke="#1616c8" stroke-width="1.35"/>
<path d="M372.09999999999997,145.6 L373.9,139.0 L375.7,145.6 Z" fill="#1616c8"/>
<line x1="378.6" y1="145.1" x2="378.6" y2="158.6" stroke="#1616c8" stroke-width="1.35"/>
<path d="M376.8,145.6 L378.6,139.0 L380.40000000000003,145.6 Z" fill="#1616c8"/>
<line x1="387.0" y1="140.4" x2="387.0" y2="153.3" stroke="#1616c8" stroke-width="1.35"/>
<path d="M385.2,140.9 L387.0,134.3 L388.8,140.9 Z" fill="#1616c8"/>
<line x1="391.2" y1="134.3" x2="391.2" y2="146.20000000000002" stroke="#e8141e" stroke-width="1.35"/>
<path d="M388.7,145.70000000000002 L391.2,153.3 L393.7,145.70000000000002 Z" fill="#e8141e"/>
<line x1="395.2" y1="140.4" x2="395.2" y2="153.3" stroke="#1616c8" stroke-width="1.35"/>
<path d="M393.4,140.9 L395.2,134.3 L397.0,140.9 Z" fill="#1616c8"/>
<line x1="398.0" y1="116.8" x2="398.0" y2="128.70000000000002" stroke="#e8141e" stroke-width="1.35"/>
<path d="M395.5,128.20000000000002 L398.0,135.8 L400.5,128.20000000000002 Z" fill="#e8141e"/>
<line x1="402.2" y1="122.89999999999999" x2="402.2" y2="135.8" stroke="#1616c8" stroke-width="1.35"/>
<path d="M400.4,123.39999999999999 L402.2,116.8 L404.0,123.39999999999999 Z" fill="#1616c8"/>
<line x1="406.4" y1="116.8" x2="406.4" y2="128.70000000000002" stroke="#e8141e" stroke-width="1.35"/>
<path d="M403.9,128.20000000000002 L406.4,135.8 L408.9,128.20000000000002 Z" fill="#e8141e"/>
<line x1="420.1" y1="37.8" x2="420.1" y2="50.699999999999996" stroke="#e8141e" stroke-width="1.35"/>
<path d="M417.6,50.199999999999996 L420.1,57.8 L422.6,50.199999999999996 Z" fill="#e8141e"/>
<line x1="424.4" y1="43.9" x2="424.4" y2="57.8" stroke="#1616c8" stroke-width="1.35"/>
<path d="M422.59999999999997,44.4 L424.4,37.8 L426.2,44.4 Z" fill="#1616c8"/>
<line x1="427.6" y1="37.8" x2="427.6" y2="50.699999999999996" stroke="#e8141e" stroke-width="1.35"/>
<path d="M425.1,50.199999999999996 L427.6,57.8 L430.1,50.199999999999996 Z" fill="#e8141e"/>
<line x1="447.3" y1="66.7" x2="447.3" y2="80.30000000000001" stroke="#e8141e" stroke-width="1.35"/>
<path d="M444.8,79.80000000000001 L447.3,87.4 L449.8,79.80000000000001 Z" fill="#e8141e"/>
<line x1="452.0" y1="72.8" x2="452.0" y2="87.4" stroke="#1616c8" stroke-width="1.35"/>
<path d="M450.2,73.3 L452.0,66.7 L453.8,73.3 Z" fill="#1616c8"/>
<line x1="456.6" y1="72.8" x2="456.6" y2="87.4" stroke="#1616c8" stroke-width="1.35"/>
<path d="M454.8,73.3 L456.6,66.7 L458.40000000000003,73.3 Z" fill="#1616c8"/>
<line x1="486.7" y1="42.4" x2="486.7" y2="55.8" stroke="#1616c8" stroke-width="1.35"/>
<path d="M484.9,42.9 L486.7,36.3 L488.5,42.9 Z" fill="#1616c8"/>
<line x1="491.3" y1="42.4" x2="491.3" y2="55.8" stroke="#1616c8" stroke-width="1.35"/>
<path d="M489.5,42.9 L491.3,36.3 L493.1,42.9 Z" fill="#1616c8"/>
<line x1="496.1" y1="42.4" x2="496.1" y2="55.8" stroke="#1616c8" stroke-width="1.35"/>
<path d="M494.3,42.9 L496.1,36.3 L497.90000000000003,42.9 Z" fill="#1616c8"/>
<rect x="427.4" y="115" width="58.4" height="26.5" fill="#fff" stroke="#555" stroke-width="1"/>
<line x1="428.5" y1="123.3" x2="444.7" y2="123.3" stroke="#e06070" stroke-width="0.9"/>
<circle cx="436.6" cy="123.3" r="0.9" fill="#c03040"/>
<line x1="428.5" y1="136" x2="444.7" y2="136" stroke="#70a0b0" stroke-width="0.9"/>
<circle cx="436.6" cy="136" r="0.9" fill="#407080"/>
<text x="448.4" y="126.9" font-family='"Liberation Sans", sans-serif' font-size="10.5" font-weight="bold" fill="#000" text-anchor="start" font-style="normal" textLength="34.6" lengthAdjust="spacingAndGlyphs" stroke="#000" stroke-width="0.3" >T (+ &gt; -)</text>
<text x="448.4" y="139.7" font-family='"Liberation Sans", sans-serif' font-size="10.5" font-weight="bold" fill="#000" text-anchor="start" font-style="normal" textLength="36.1" lengthAdjust="spacingAndGlyphs" stroke="#000" stroke-width="0.3" >R (- &gt; +)</text>
<text x="301.0" y="213.4936170212766" font-family='"Liberation Sans", sans-serif' font-size="15.744680851063842" font-weight="bold" fill="#000" text-anchor="start" font-style="normal" textLength="4.46" lengthAdjust="spacingAndGlyphs" stroke="#000" stroke-width="0.3" >(</text>
<text x="322.0" y="213.4936170212766" font-family='"Liberation Sans", sans-serif' font-size="15.744680851063842" font-weight="bold" fill="#000" text-anchor="end" font-style="normal" stroke="#000" stroke-width="0.3" >)</text>
<text x="306.8" y="214.0" font-family='"Liberation Sans", sans-serif' font-size="14.525139664804477" font-weight="bold" fill="#000" text-anchor="start" font-style="normal" textLength="9.8" lengthAdjust="spacingAndGlyphs" stroke="#000" stroke-width="0.3" >D</text>
<rect x="338.3" y="200.3" width="26.30000000000001" height="3.2" fill="#dc121c"/>
<rect x="338.3" y="207.2" width="26.30000000000001" height="3.2" fill="#dc121c"/>
<rect x="338.3" y="214.1" width="26.30000000000001" height="3.2" fill="#dc121c"/>
<text x="345.2" y="230.9" font-family='"Liberation Serif", serif' font-size="11" font-weight="bold" fill="#000" text-anchor="start" font-style="normal" textLength="7.4" lengthAdjust="spacingAndGlyphs" stroke="#000" stroke-width="0.3" >R</text>
<text x="354.0" y="232.8" font-family='"Liberation Serif", serif' font-size="6.6" font-weight="bold" fill="#000" text-anchor="start" font-style="normal" textLength="2.9" lengthAdjust="spacingAndGlyphs" stroke="#000" stroke-width="0.3" >1</text>
<rect x="401.5" y="200.2" width="27.0" height="3.2" fill="#dc121c"/>
<rect x="401.5" y="208.0" width="27.0" height="3.2" fill="#5696d2"/>
<rect x="401.5" y="214.2" width="27.0" height="3.2" fill="#dc121c"/>
<text x="409.4" y="231.1" font-family='"Liberation Serif", serif' font-size="11" font-weight="bold" fill="#000" text-anchor="start" font-style="normal" textLength="7.4" lengthAdjust="spacingAndGlyphs" stroke="#000" stroke-width="0.3" >R</text>
<text x="417.0" y="233.0" font-family='"Liberation Serif", serif' font-size="6.6" font-weight="bold" fill="#000" text-anchor="start" font-style="normal" textLength="2.9" lengthAdjust="spacingAndGlyphs" stroke="#000" stroke-width="0.3" >3</text>
<rect x="464.6" y="200.0" width="26.799999999999955" height="3.2" fill="#5696d2"/>
<rect x="464.6" y="207.3" width="26.799999999999955" height="3.2" fill="#5696d2"/>
<rect x="464.6" y="214.3" width="26.799999999999955" height="3.2" fill="#dc121c"/>
<text x="472.4" y="230.9" font-family='"Liberation Serif", serif' font-size="11" font-weight="bold" fill="#000" text-anchor="start" font-style="normal" textLength="7.4" lengthAdjust="spacingAndGlyphs" stroke="#000" stroke-width="0.3" >R</text>
<text x="480.3" y="232.5" font-family='"Liberation Serif", serif' font-size="6.6" font-weight="bold" fill="#000" text-anchor="start" font-style="normal" textLength="2.9" lengthAdjust="spacingAndGlyphs" stroke="#000" stroke-width="0.3" >2</text>
<rect x="467.7" y="253.9" width="26.600000000000023" height="3.2" fill="#dc121c"/>
<rect x="467.7" y="261.2" width="26.600000000000023" height="3.2" fill="#5696d2"/>
<rect x="467.7" y="267.9" width="26.600000000000023" height="3.2" fill="#dc121c"/>
<text x="457.5" y="276.0" font-family='"Liberation Serif", serif' font-size="11" font-weight="bold" fill="#000" text-anchor="start" font-style="normal" textLength="7.4" lengthAdjust="spacingAndGlyphs" stroke="#000" stroke-width="0.3" >R</text>
<text x="465.1" y="277.7" font-family='"Liberation Serif", serif' font-size="6.6" font-weight="bold" fill="#000" text-anchor="start" font-style="normal" textLength="2.9" lengthAdjust="spacingAndGlyphs" stroke="#000" stroke-width="0.3" >3</text>
<rect x="468.7" y="296.0" width="26.0" height="3.2" fill="#dc121c"/>
<rect x="468.7" y="302.3" width="26.0" height="3.2" fill="#5696d2"/>
<rect x="468.7" y="308.2" width="26.0" height="3.2" fill="#5696d2"/>
<text x="476.3" y="322.0" font-family='"Liberation Serif", serif' font-size="11" font-weight="bold" fill="#000" text-anchor="start" font-style="normal" textLength="7.4" lengthAdjust="spacingAndGlyphs" stroke="#000" stroke-width="0.3" >R</text>
<text x="484.0" y="324.2" font-family='"Liberation Serif", serif' font-size="6.6" font-weight="bold" fill="#000" text-anchor="start" font-style="normal" textLength="2.9" lengthAdjust="spacingAndGlyphs" stroke="#000" stroke-width="0.3" >2</text>
<rect x="404.9" y="297.5" width="26.900000000000034" height="3.2" fill="#5696d2"/>
<rect x="404.9" y="304.0" width="26.900000000000034" height="3.2" fill="#5696d2"/>
<rect x="404.9" y="310.0" width="26.900000000000034" height="3.2" fill="#5696d2"/>
<text x="413.7" y="323.7" font-family='"Liberation Serif", serif' font-size="11" font-weight="bold" fill="#000" text-anchor="start" font-style="normal" textLength="7.4" lengthAdjust="spacingAndGlyphs" stroke="#000" stroke-width="0.3" >R</text>
<text x="421.6" y="326.1" font-family='"Liberation Serif", serif' font-size="6.6" font-weight="bold" fill="#000" text-anchor="start" font-style="normal" textLength="2.9" lengthAdjust="spacingAndGlyphs" stroke="#000" stroke-width="0.3" >1</text>
<rect x="340.8" y="298.0" width="25.5" height="3.2" fill="#5696d2"/>
<rect x="340.8" y="304.8" width="25.5" height="3.2" fill="#dc121c"/>
<rect x="340.8" y="310.8" width="25.5" height="3.2" fill="#5696d2"/>
<text x="351.0" y="323.7" font-family='"Liberation Serif", serif' font-size="11" font-weight="bold" fill="#000" text-anchor="start" font-style="normal" textLength="7.4" lengthAdjust="spacingAndGlyphs" stroke="#000" stroke-width="0.3" >R</text>
<text x="359.0" y="325.9" font-family='"Liberation Serif", serif' font-size="6.6" font-weight="bold" fill="#000" text-anchor="start" font-style="normal" textLength="2.9" lengthAdjust="spacingAndGlyphs" stroke="#000" stroke-width="0.3" >3</text>
<rect x="338.8" y="256.8" width="27.30000000000001" height="3.2" fill="#dc121c"/>
<rect x="338.8" y="263.8" width="27.30000000000001" height="3.2" fill="#dc121c"/>
<rect x="338.8" y="271.4" width="27.30000000000001" height="3.2" fill="#5696d2"/>
<text x="338.7" y="284.9" font-family='"Liberation Serif", serif' font-size="11" font-weight="bold" fill="#000" text-anchor="start" font-style="normal" textLength="7.4" lengthAdjust="spacingAndGlyphs" stroke="#000" stroke-width="0.3" >R</text>
<text x="346.1" y="286.8" font-family='"Liberation Serif", serif' font-size="6.6" font-weight="bold" fill="#000" text-anchor="start" font-style="normal" textLength="2.9" lengthAdjust="spacingAndGlyphs" stroke="#000" stroke-width="0.3" >2</text>
<text x="371.5" y="205.2" font-family='"Liberation Sans", sans-serif' font-size="9.6" font-weight="bold" fill="#000" text-anchor="start" font-style="normal" textLength="27.3" lengthAdjust="spacingAndGlyphs" stroke="#000" stroke-width="0.3" >47 mV</text>
<text x="435.4" y="206.6" font-family='"Liberation Sans", sans-serif' font-size="9.6" font-weight="bold" fill="#000" text-anchor="start" font-style="normal" textLength="28.4" lengthAdjust="spacingAndGlyphs" stroke="#000" stroke-width="0.3" >45 mV</text>
<text x="447.2" y="242.8" font-family='"Liberation Sans", sans-serif' font-size="9.6" font-weight="bold" fill="#000" text-anchor="start" font-style="normal" textLength="30.8" lengthAdjust="spacingAndGlyphs" stroke="#000" stroke-width="0.3" >-34 mV</text>
<text x="448.3" y="285.4" font-family='"Liberation Sans", sans-serif' font-size="9.6" font-weight="bold" fill="#000" text-anchor="start" font-style="normal" textLength="30.6" lengthAdjust="spacingAndGlyphs" stroke="#000" stroke-width="0.3" >-36 mV</text>
<text x="435.0" y="316.8" font-family='"Liberation Sans", sans-serif' font-size="9.6" font-weight="bold" fill="#000" text-anchor="start" font-style="normal" textLength="32.3" lengthAdjust="spacingAndGlyphs" stroke="#000" stroke-width="0.3" >-68 mV</text>
<text x="373.0" y="316.8" font-family='"Liberation Sans", sans-serif' font-size="9.6" font-weight="bold" fill="#000" text-anchor="start" font-style="normal" textLength="31.0" lengthAdjust="spacingAndGlyphs" stroke="#000" stroke-width="0.3" >-46 mV</text>
<text x="358.3" y="284.6" font-family='"Liberation Sans", sans-serif' font-size="9.6" font-weight="bold" fill="#000" text-anchor="start" font-style="normal" textLength="33.6" lengthAdjust="spacingAndGlyphs" stroke="#000" stroke-width="0.3" >-45 mV</text>
<text x="359.6" y="242.8" font-family='"Liberation Sans", sans-serif' font-size="9.6" font-weight="bold" fill="#000" text-anchor="start" font-style="normal" textLength="29.6" lengthAdjust="spacingAndGlyphs" stroke="#000" stroke-width="0.3" >57 mV</text>
<line x1="372.9" y1="210.7" x2="391.4" y2="210.7" stroke="#f2b840" stroke-width="3.5"/>
<path d="M391.4,213.1 L394.0,210.7 L391.4,208.29999999999998 Z" fill="#f2b840"/>
<line x1="436.0" y1="212.0" x2="455.09999999999997" y2="212.0" stroke="#f2b840" stroke-width="3.5"/>
<path d="M455.09999999999997,214.4 L457.7,212.0 L455.09999999999997,209.6 Z" fill="#f2b840"/>
<line x1="482.2" y1="235.9" x2="482.2" y2="242.20000000000002" stroke="#f2b840" stroke-width="3.5"/>
<path d="M479.8,242.20000000000002 L482.2,244.8 L484.59999999999997,242.20000000000002 Z" fill="#f2b840"/>
<line x1="483.0" y1="277.3" x2="483.0" y2="283.59999999999997" stroke="#f2b840" stroke-width="3.5"/>
<path d="M480.6,283.59999999999997 L483.0,286.2 L485.4,283.59999999999997 Z" fill="#f2b840"/>
<line x1="458.6" y1="303.6" x2="441.0" y2="303.6" stroke="#f2b840" stroke-width="3.5"/>
<path d="M441.0,301.20000000000005 L438.4,303.6 L441.0,306.0 Z" fill="#f2b840"/>
<line x1="399.6" y1="303.6" x2="380.20000000000005" y2="303.6" stroke="#f2b840" stroke-width="3.5"/>
<path d="M380.20000000000005,301.20000000000005 L377.6,303.6 L380.20000000000005,306.0 Z" fill="#f2b840"/>
<line x1="353.5" y1="287.3" x2="353.5" y2="280.5" stroke="#f2b840" stroke-width="3.5"/>
<path d="M355.9,280.5 L353.5,277.9 L351.1,280.5 Z" fill="#f2b840"/>
<line x1="351.6" y1="244.6" x2="351.6" y2="237.4" stroke="#f2b840" stroke-width="3.5"/>
<path d="M354.0,237.4 L351.6,234.8 L349.20000000000005,237.4 Z" fill="#f2b840"/>
<text x="334.3" y="195.0" font-family='"Liberation Sans", sans-serif' font-size="9.5" font-weight="bold" fill="#000" text-anchor="start" font-style="italic" textLength="6.2" lengthAdjust="spacingAndGlyphs" stroke="#000" stroke-width="0.3" >B</text>
<line x1="340.5" y1="191.0" x2="344.20000000000005" y2="191.0" stroke="#2fae7e" stroke-width="1.3"/>
<path d="M343.8,189.4 L346.6,191.0 L343.8,192.6 Z" fill="#2fae7e"/>
<text x="347.4" y="195.0" font-family='"Liberation Sans", sans-serif' font-size="9.5" font-weight="bold" fill="#000" text-anchor="start" font-style="italic" textLength="6.6" lengthAdjust="spacingAndGlyphs" stroke="#000" stroke-width="0.3" >C</text>
<line x1="353.5" y1="191.0" x2="357.3" y2="191.0" stroke="#2fae7e" stroke-width="1.3"/>
<path d="M356.9,189.4 L359.7,191.0 L356.9,192.6 Z" fill="#2fae7e"/>
<text x="360.6" y="195.0" font-family='"Liberation Sans", sans-serif' font-size="9.5" font-weight="bold" fill="#000" text-anchor="start" font-style="italic" textLength="7.6" lengthAdjust="spacingAndGlyphs" stroke="#000" stroke-width="0.3" >D</text>
<text x="413.0" y="198.2" font-family='"Liberation Sans", sans-serif' font-size="9.6" font-weight="bold" fill="#000" text-anchor="start" font-style="normal" textLength="4.8" lengthAdjust="spacingAndGlyphs" stroke="#000" stroke-width="0.3" >E</text>
<text x="468.5" y="194.8" font-family='"Liberation Sans", sans-serif' font-size="9.5" font-weight="bold" fill="#000" text-anchor="start" font-style="italic" textLength="5.7" lengthAdjust="spacingAndGlyphs" stroke="#000" stroke-width="0.3" >F</text>
<line x1="473.6" y1="191.6" x2="477.90000000000003" y2="191.6" stroke="#2fae7e" stroke-width="1.3"/>
<path d="M477.5,190.0 L480.3,191.6 L477.5,193.2 Z" fill="#2fae7e"/>
<text x="480.7" y="194.8" font-family='"Liberation Sans", sans-serif' font-size="9.5" font-weight="bold" fill="#000" text-anchor="start" font-style="italic" textLength="7.3" lengthAdjust="spacingAndGlyphs" stroke="#000" stroke-width="0.3" >G</text>
<text x="486.4" y="252.2" font-family='"Liberation Sans", sans-serif' font-size="9.5" font-weight="bold" fill="#000" text-anchor="start" font-style="italic" textLength="7.6" lengthAdjust="spacingAndGlyphs" stroke="#000" stroke-width="0.3" >H</text>
<text x="476.0" y="293.6" font-family='"Liberation Sans", sans-serif' font-size="9.5" font-weight="bold" fill="#000" text-anchor="start" font-style="italic" textLength="3.8" lengthAdjust="spacingAndGlyphs" stroke="#000" stroke-width="0.3" >I</text>
<line x1="479.8" y1="289.8" x2="483.90000000000003" y2="289.8" stroke="#2fae7e" stroke-width="1.3"/>
<path d="M483.5,288.2 L486.3,289.8 L483.5,291.40000000000003 Z" fill="#2fae7e"/>
<text x="487.6" y="293.6" font-family='"Liberation Sans", sans-serif' font-size="9.5" font-weight="bold" fill="#000" text-anchor="start" font-style="italic" textLength="6.0" lengthAdjust="spacingAndGlyphs" stroke="#000" stroke-width="0.3" >J</text>
<text x="402.3" y="296.0" font-family='"Liberation Sans", sans-serif' font-size="9.5" font-weight="bold" fill="#000" text-anchor="start" font-style="italic" textLength="7.1" lengthAdjust="spacingAndGlyphs" stroke="#000" stroke-width="0.3" >K</text>
<line x1="408.8" y1="292.0" x2="411.90000000000003" y2="292.0" stroke="#2fae7e" stroke-width="1.3"/>
<path d="M411.5,290.4 L414.3,292.0 L411.5,293.6 Z" fill="#2fae7e"/>
<text x="417.4" y="296.0" font-family='"Liberation Sans", sans-serif' font-size="9.5" font-weight="bold" fill="#000" text-anchor="start" font-style="italic" textLength="5.4" lengthAdjust="spacingAndGlyphs" stroke="#000" stroke-width="0.3" >L</text>
<line x1="422.5" y1="292.0" x2="427.3" y2="292.0" stroke="#2fae7e" stroke-width="1.3"/>
<path d="M426.9,290.4 L429.7,292.0 L426.9,293.6 Z" fill="#2fae7e"/>
<text x="432.4" y="296.0" font-family='"Liberation Sans", sans-serif' font-size="9.5" font-weight="bold" fill="#000" text-anchor="start" font-style="italic" textLength="10.6" lengthAdjust="spacingAndGlyphs" stroke="#000" stroke-width="0.3" >M</text>
<text x="361.4" y="295.6" font-family='"Liberation Sans", sans-serif' font-size="9.5" font-weight="bold" fill="#000" text-anchor="start" font-style="italic" textLength="8.2" lengthAdjust="spacingAndGlyphs" stroke="#000" stroke-width="0.3" >N</text>
<text x="342.0" y="253.5" font-family='"Liberation Sans", sans-serif' font-size="9.5" font-weight="bold" fill="#000" text-anchor="start" font-style="italic" textLength="8.1" lengthAdjust="spacingAndGlyphs" stroke="#000" stroke-width="0.3" >O</text>
<line x1="349.5" y1="250.0" x2="353.5" y2="250.0" stroke="#2fae7e" stroke-width="1.3"/>
<path d="M353.09999999999997,248.4 L355.9,250.0 L353.09999999999997,251.6 Z" fill="#2fae7e"/>
<text x="356.3" y="253.5" font-family='"Liberation Sans", sans-serif' font-size="9.5" font-weight="bold" fill="#000" text-anchor="start" font-style="italic" textLength="7.9" lengthAdjust="spacingAndGlyphs" stroke="#000" stroke-width="0.3" >A</text>
<rect x="0" y="328" width="520" height="1" fill="#e6e6e6"/>
</svg>
</body></html>
